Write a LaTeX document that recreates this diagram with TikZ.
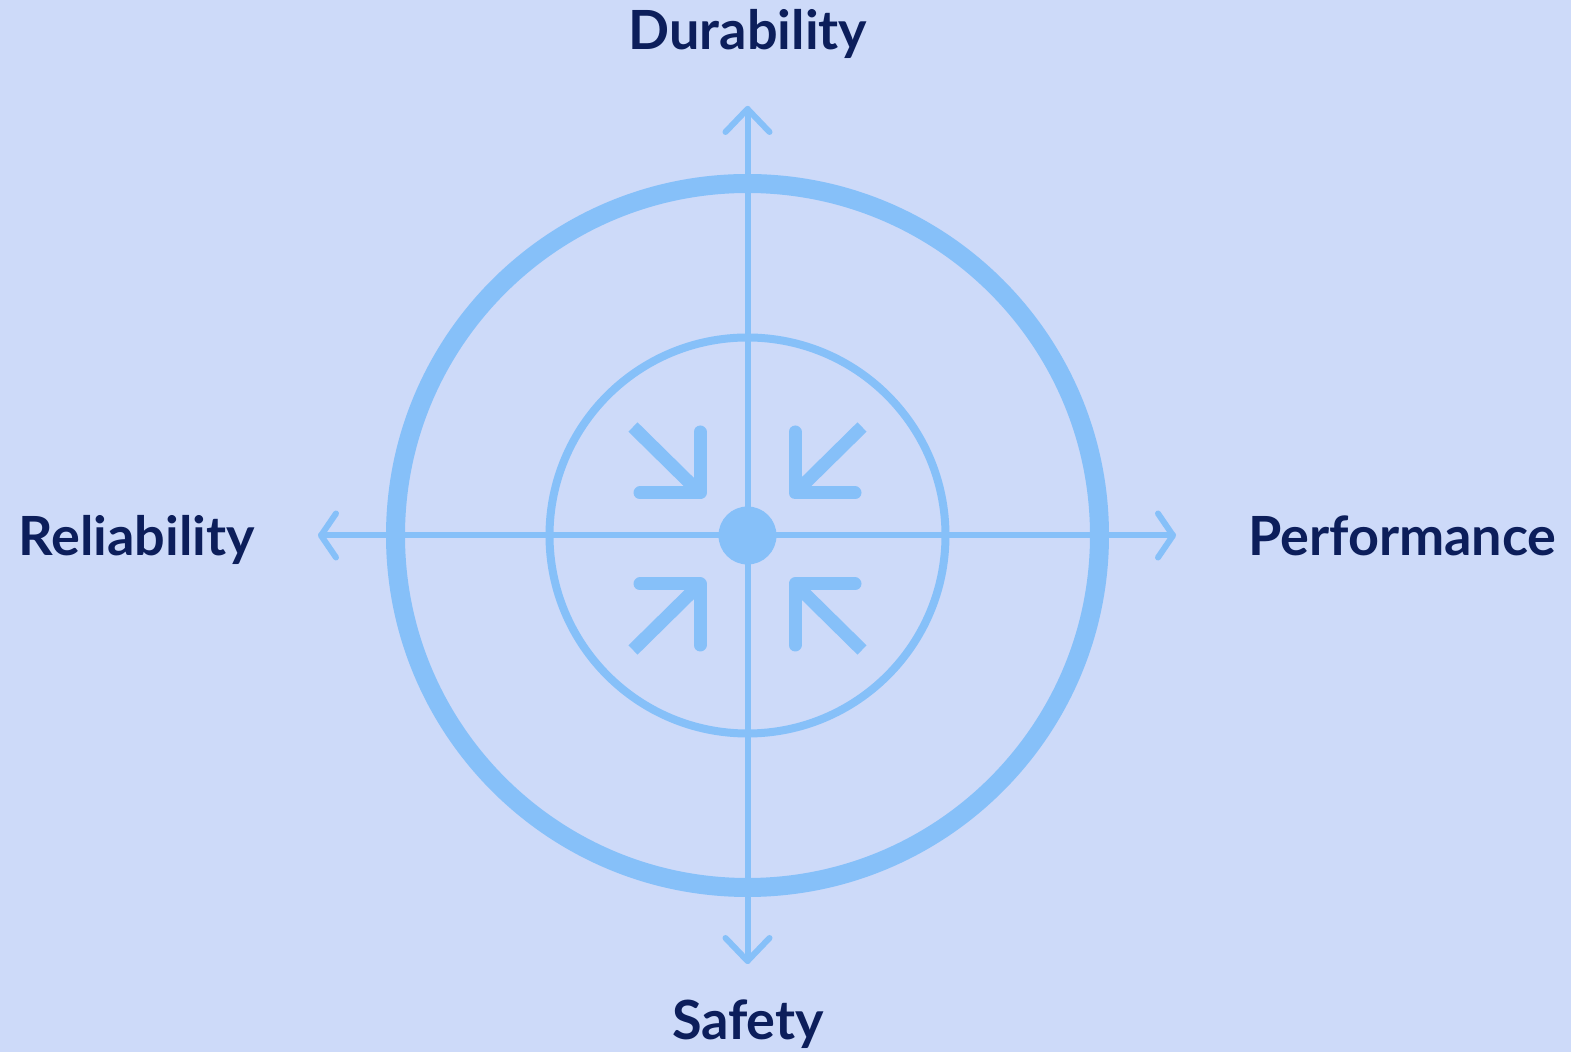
\documentclass[tikz,border=0pt]{standalone}
\usepackage{fontspec}
\setmainfont{Lato}
\definecolor{bgBlue}{RGB}{205, 218, 249}
\definecolor{ringBlue}{RGB}{134, 192, 249}
\definecolor{navy}{RGB}{12, 30, 91}
\usetikzlibrary{calc}

\begin{document}
\begin{tikzpicture}[x=0.5pt, y=-0.5pt,
    axisline/.style={ringBlue, line width=3pt, line cap=round, line join=round},
    pointer/.style={ringBlue, line width=6.5pt, line cap=round, line join=round},
    dimlabel/.style={font=\fontsize{27}{30}\selectfont\bfseries, text=navy, inner sep=0pt}]
                \fill[bgBlue] (0,0) rectangle (1571,1052);
                \useasboundingbox (0,0) rectangle (1571,1052);

                % axis end points
                \coordinate (ctr) at (747.5,535.5);
                \coordinate (top) at (747.5,109);
                \coordinate (bot) at (747.5,961);
                \coordinate (lft) at (321,535.5);
                \coordinate (rgt) at (1173,535.5);

                % rings
                \draw[ringBlue, line width=9.5pt] (ctr) circle[radius=176pt];
                \draw[ringBlue, line width=4pt] (ctr) circle[radius=99pt];

                % axes with open heads
                \draw[axisline] (top) -- (bot);
                \draw[axisline] (lft) -- (rgt);
                \draw[axisline] ($(top)+(-22,23)$) -- (top) -- ($(top)+(22,23)$);
                \draw[axisline] ($(bot)+(-22,-23)$) -- (bot) -- ($(bot)+(22,-23)$);
                \draw[axisline] ($(lft)+(15,-22)$) -- (lft) -- ($(lft)+(15,22)$);
                \draw[axisline] ($(rgt)+(-15,-22)$) -- (rgt) -- ($(rgt)+(-15,22)$);

                % hub
                \node[circle, fill=ringBlue, minimum size=29pt, inner sep=0pt] (hub) at (ctr) {};

                % inward pointers
                \draw[pointer, line cap=butt] (633,427) -- (700,493);
                \draw[pointer] (640,493) -- (700,493) -- (700,432);
                \draw[pointer, line cap=butt] (862,427) -- (795,493);
                \draw[pointer] (855,493) -- (795,493) -- (795,432);
                \draw[pointer, line cap=butt] (633,650) -- (700,584);
                \draw[pointer] (640,584) -- (700,584) -- (700,645);
                \draw[pointer, line cap=butt] (862,650) -- (795,584);
                \draw[pointer] (855,584) -- (795,584) -- (795,645);

                % dimension labels
                \node[dimlabel, anchor=base] (durability) at (748,50) {Durability};
                \node[dimlabel, anchor=base] (safety) at (748,1040) {Safety};
                \node[dimlabel, anchor=base west] (reliability) at (18,556) {Reliability};
                \node[dimlabel, anchor=base east] (performance) at (1557,556) {Performance};
\end{tikzpicture}
\end{document}
